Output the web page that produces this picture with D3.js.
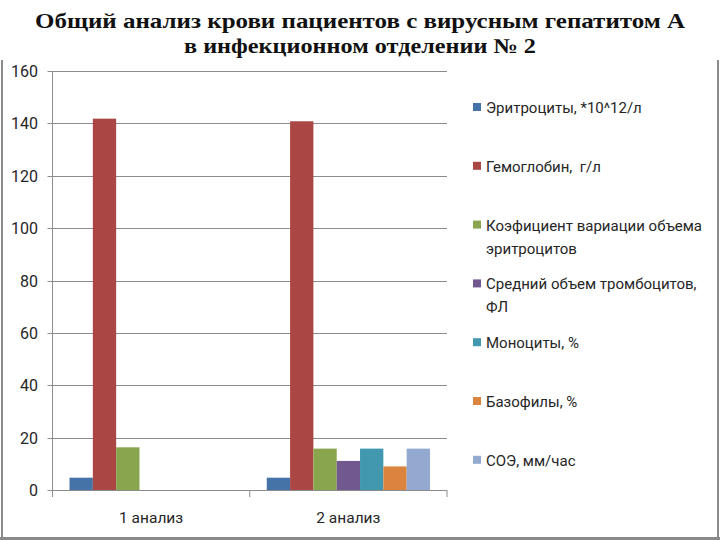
<!DOCTYPE html>
<html><head><meta charset="utf-8">
<script src="https://cdn.jsdelivr.net/npm/d3@7/dist/d3.min.js"></script>
<style>
html,body{margin:0;padding:0;background:#fff;}
svg{display:block;}
text{white-space:pre;}
</style></head>
<body>
<script>
const titleLines = ["Общий анализ крови пациентов с вирусным гепатитом А", "в инфекционном отделении № 2"];
const categories = ["1 анализ", "2 анализ"];
const seriesNames = ["Эритроциты, *10^12/л", "Гемоглобин,  г/л", "Коэфициент вариации объема эритроцитов", "Средний объем тромбоцитов, ФЛ", "Моноциты, %", "Базофилы, %", "СОЭ, мм/час"];
const legendLines = [["Эритроциты, *10^12/л"], ["Гемоглобин,  г/л"], ["Коэфициент вариации объема", "эритроцитов"], ["Средний объем тромбоцитов,", "ФЛ"], ["Моноциты, %"], ["Базофилы, %"], ["СОЭ, мм/час"]];
const colors = ["#4572A7", "#AA4643", "#89A54E", "#71588F", "#4198AF", "#DB843D", "#93A9CF"];
// values[series][category]; null = no bar
const values = [
  [4.7, 4.7],
  [141.8, 140.8],
  [16.3, 15.8],
  [null, 11.1],
  [null, 15.8],
  [null, 9.0],
  [null, 15.8]
];
const yTicks = [0, 20, 40, 60, 80, 100, 120, 140, 160];

const W = 720, H = 540;
const svg = d3.select("body").append("svg").attr("width", W).attr("height", H);
svg.append("rect").attr("width", W).attr("height", H).attr("fill", "#fff");

// frame
svg.append("line").attr("x1", 2).attr("x2", 2).attr("y1", 60).attr("y2", 540).attr("stroke", "#8a8a8a").attr("stroke-width", 2);
svg.append("line").attr("x1", 718).attr("x2", 718).attr("y1", 60).attr("y2", 540).attr("stroke", "#8a8a8a").attr("stroke-width", 2);
svg.append("line").attr("x1", 0).attr("x2", 720).attr("y1", 538.5).attr("y2", 538.5).attr("stroke", "#8a8a8a").attr("stroke-width", 3);

// title
svg.selectAll("text.title").data(titleLines).enter().append("text")
  .attr("class", "title")
  .attr("x", 360).attr("y", (d, i) => 28 + i * 25)
  .attr("text-anchor", "middle")
  .attr("font-family", "'Liberation Serif', 'DejaVu Serif', serif")
  .attr("font-weight", "bold").attr("font-size", 21)
  .attr("fill", "#111")
  .attr("textLength", (d, i) => i === 0 ? 650 : 352)
  .attr("lengthAdjust", "spacingAndGlyphs")
  .text(d => d);

const plotL = 52.5, plotR = 447, y0 = 490, yTop = 71;
const x = d3.scaleBand().domain(categories).range([plotL, plotR]).paddingInner(0).paddingOuter(0);
const y = d3.scaleLinear().domain([0, 160]).range([y0, yTop]);
const xs = d3.scaleBand().domain(d3.range(seriesNames.length)).range([0, x.bandwidth()]).paddingInner(0).paddingOuter(0.73);

// gridlines
svg.append("g").selectAll("line").data(yTicks).enter().append("line")
  .attr("x1", plotL - 5).attr("x2", plotR)
  .attr("y1", d => Math.round(y(d)) + 0.5).attr("y2", d => Math.round(y(d)) + 0.5)
  .attr("stroke", "#8c8c8c").attr("stroke-width", 1);

// y axis line
svg.append("line").attr("x1", plotL).attr("x2", plotL).attr("y1", yTop).attr("y2", y0 + 7)
  .attr("stroke", "#8c8c8c");
// x category ticks
svg.append("g").selectAll("line").data(d3.range(categories.length + 1)).enter().append("line")
  .attr("x1", i => i < categories.length ? x(categories[i]) : plotR)
  .attr("x2", i => i < categories.length ? x(categories[i]) : plotR)
  .attr("y1", y0).attr("y2", y0 + 7)
  .attr("stroke", "#8c8c8c");

// y labels
svg.append("g").selectAll("text").data(yTicks).enter().append("text")
  .attr("x", 38).attr("y", d => y(d) + 6)
  .attr("text-anchor", "end")
  .attr("font-family", "Roboto, 'Noto Sans', sans-serif")
  .attr("font-size", 16).attr("fill", "#262626")
  .text(d => d);

// bars
const bars = [];
values.forEach((row, s) => row.forEach((v, c) => { if (v != null) bars.push({ s, c, v }); }));
svg.append("g").selectAll("rect").data(bars).enter().append("rect")
  .attr("x", d => x(categories[d.c]) + xs(d.s))
  .attr("width", xs.bandwidth())
  .attr("y", d => y(d.v))
  .attr("height", d => y0 - y(d.v))
  .attr("fill", d => colors[d.s]);

// category labels
svg.append("g").selectAll("text").data(categories).enter().append("text")
  .attr("x", d => x(d) + x.bandwidth() / 2).attr("y", 523)
  .attr("text-anchor", "middle")
  .attr("font-family", "Roboto, 'Noto Sans', sans-serif")
  .attr("font-size", 15.5).attr("fill", "#262626")
  .text(d => d);

// legend
const lg = svg.append("g").selectAll("g").data(legendLines).enter().append("g")
  .attr("transform", (d, i) => `translate(473, ${107 + i * 58.8})`);
lg.append("rect").attr("x", 0).attr("y", -4).attr("width", 8).attr("height", 8)
  .attr("fill", (d, i) => colors[i]);
lg.each(function (lines) {
  d3.select(this).selectAll("text").data(lines).enter().append("text")
    .attr("x", 13).attr("y", (t, j) => 6 + j * 23)
    .attr("font-family", "Roboto, 'Noto Sans', sans-serif")
    .attr("font-size", 15).attr("fill", "#262626")
    .text(t => t);
});
</script>
</body></html>
